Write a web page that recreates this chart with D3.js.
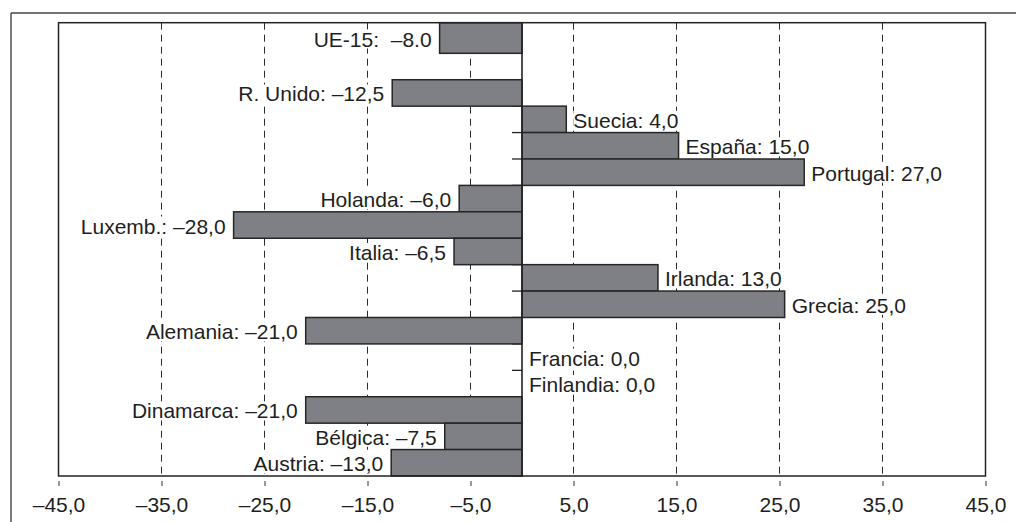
<!DOCTYPE html>
<html>
<head>
<meta charset="utf-8">
<script src="https://cdn.jsdelivr.net/npm/d3@7/dist/d3.min.js"></script>
<style>
  html, body { margin: 0; padding: 0; background: #fff; }
  svg { display: block; }
  text { font-family: "Liberation Sans", Arial, Helvetica, sans-serif; fill: #1e1e1e; }
</style>
</head>
<body>
<svg id="chart" width="1016" height="522"></svg>
<script>
// ---- data ----
const categories = ["UE-15", "", "R. Unido", "Suecia", "España", "Portugal", "Holanda", "Luxemb.",
  "Italia", "Irlanda", "Grecia", "Alemania", "Francia", "Finlandia", "Dinamarca", "Bélgica", "Austria"];
const barValues = [-8.0, null, -12.6, 4.3, 15.2, 27.4, -6.1, -28.0, -6.6, 13.2, 25.5, -21.0, 0, 0, -21.0, -7.5, -12.7];
const labelTexts = ["UE-15:  –8.0", "", "R. Unido: –12,5", "Suecia: 4,0", "España: 15,0", "Portugal: 27,0",
  "Holanda: –6,0", "Luxemb.: –28,0", "Italia: –6,5", "Irlanda: 13,0", "Grecia: 25,0", "Alemania: –21,0",
  "Francia: 0,0", "Finlandia: 0,0", "Dinamarca: –21,0", "Bélgica: –7,5", "Austria: –13,0"];
const tickValues = [-45, -35, -25, -15, -5, 5, 15, 25, 35, 45];
const tickLabels = ["–45,0", "–35,0", "–25,0", "–15,0", "–5,0", "5,0", "15,0", "25,0", "35,0", "45,0"];
const gridValues = [-35, -25, -15, -5, 5, 15, 25, 35];

// ---- layout ----
const W = 1016, H = 522;
const plotTop = 22.7, plotBottom = 476;
const svg = d3.select("#chart");

const x = d3.scaleLinear().domain([-45, 45]).range([58.5, 985.5]);
const y = d3.scaleBand().domain(d3.range(categories.length)).range([26.9, plotBottom]).paddingInner(0).paddingOuter(0);

const rows = categories.map((c, i) => ({ c, i, v: barValues[i], label: labelTexts[i] }));

// outer frame lines
svg.append("line").attr("x1", 11).attr("x2", 11).attr("y1", 13).attr("y2", H)
  .attr("stroke", "#444").attr("stroke-width", 1.4);
svg.append("line").attr("x1", 11).attr("x2", W).attr("y1", 13).attr("y2", 13)
  .attr("stroke", "#444").attr("stroke-width", 1.4);

// gridlines
svg.append("g").selectAll("line").data(gridValues).join("line")
  .attr("x1", d => x(d)).attr("x2", d => x(d))
  .attr("y1", plotTop).attr("y2", plotBottom)
  .attr("stroke", "#2a2a2a").attr("stroke-width", 1)
  .attr("stroke-dasharray", "7,5");

// bottom ticks + labels via axis
const xAxis = d3.axisBottom(x).tickValues(tickValues)
  .tickFormat((d, i) => tickLabels[i]).tickSize(0).tickPadding(0);
const gx = svg.append("g").attr("transform", `translate(0,${plotBottom})`).call(xAxis);
gx.select(".domain").remove();
gx.selectAll(".tick line").remove();
gx.selectAll(".tick").append("line")
  .attr("x1", 0).attr("x2", 0).attr("y1", 5).attr("y2", 10)
  .attr("stroke", "#333").attr("stroke-width", 1);
gx.selectAll(".tick text")
  .attr("y", 36).attr("dy", null)
  .style("font-size", "21px").style("font-family", "'Liberation Sans', Arial, sans-serif")
  .attr("fill", "#1e1e1e");

// y ticks at band boundaries (left of zero line)
const boundaries = d3.range(categories.length + 1).map(i => i < categories.length ? y(i) : plotBottom);
svg.append("g").selectAll("line").data(boundaries).join("line")
  .attr("x1", x(0) - 10).attr("x2", x(0))
  .attr("y1", d => d).attr("y2", d => d)
  .attr("stroke", "#222").attr("stroke-width", 1.3);

// bars
const barRows = rows.filter(r => r.v !== null && r.v !== 0);
svg.append("g").selectAll("rect").data(barRows).join("rect")
  .attr("x", d => x(Math.min(0, d.v)))
  .attr("width", d => Math.abs(x(d.v) - x(0)))
  .attr("y", d => d.i === 0 ? plotTop : y(d.i))
  .attr("height", d => d.i === 0 ? y(d.i) + y.bandwidth() - plotTop : y.bandwidth())
  .attr("fill", "#7f8085")
  .attr("stroke", "#262626").attr("stroke-width", 1.5);

// labels with white backgrounds
const lg = svg.append("g");
rows.filter(r => r.label).forEach(r => {
  const yc = (r.i === 0 ? (plotTop + y(r.i) + y.bandwidth()) / 2 : y(r.i) + y.bandwidth() / 2);
  const neg = r.v < 0;
  const g = lg.append("g");
  const t = g.append("text")
    .attr("x", neg ? x(r.v) - 8 : x(r.v) + 7)
    .attr("y", yc + 1)
    .attr("dominant-baseline", "central")
    .attr("text-anchor", neg ? "end" : "start")
    .style("font-size", "21px")
    .style("white-space", "pre")
    .text(r.label);
  const bb = t.node().getBBox();
  g.insert("rect", "text")
    .attr("x", bb.x).attr("y", bb.y + 2)
    .attr("width", bb.width).attr("height", bb.height - 4)
    .attr("fill", "#fff");
});

// zero line
svg.append("line").attr("x1", x(0)).attr("x2", x(0))
  .attr("y1", plotTop).attr("y2", plotBottom)
  .attr("stroke", "#222").attr("stroke-width", 1.6);

// plot frame
svg.append("rect")
  .attr("x", x(-45)).attr("y", plotTop)
  .attr("width", x(45) - x(-45)).attr("height", plotBottom - plotTop)
  .attr("fill", "none").attr("stroke", "#222").attr("stroke-width", 1.5);
</script>
</body>
</html>
